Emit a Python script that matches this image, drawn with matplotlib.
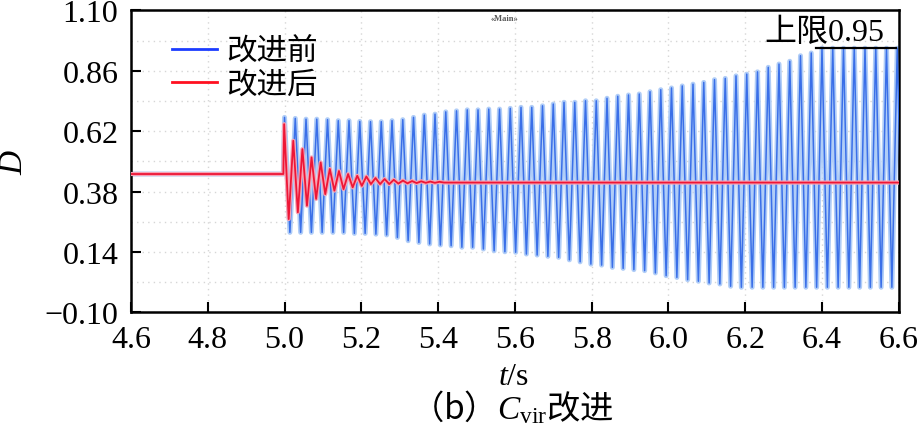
import matplotlib
matplotlib.use("Agg")
import matplotlib.pyplot as plt
from matplotlib.lines import Line2D
from matplotlib.font_manager import FontProperties
from matplotlib.ticker import FixedLocator

# ---------------- data ----------------
x_ticks = [4.6, 4.8, 5.0, 5.2, 5.4, 5.6, 5.8, 6.0, 6.2, 6.4, 6.6]
y_ticks = [-0.10, 0.14, 0.38, 0.62, 0.86, 1.10]
steady_before = 0.45          # D before the disturbance
disturb_time = 4.997

# before improvement (blue): oscillation, one peak + one trough per period
blue_start = 5.000
blue_period = 0.028
blue_peaks = [0.675, 0.671, 0.668, 0.668, 0.666, 0.662, 0.662, 0.659, 0.658, 0.658,
              0.662, 0.666, 0.675, 0.684, 0.688, 0.697, 0.701, 0.705, 0.705, 0.708,
              0.708, 0.711, 0.715, 0.715, 0.721, 0.728, 0.735, 0.735, 0.741, 0.741,
              0.751, 0.759, 0.764, 0.768, 0.777, 0.785, 0.792, 0.800, 0.807, 0.814,
              0.825, 0.830, 0.840, 0.847, 0.856, 0.874, 0.887, 0.898, 0.920, 0.931,
              0.950, 0.950, 0.950, 0.950, 0.950, 0.950, 0.950, 0.950]
blue_troughs = [0.218, 0.218, 0.218, 0.218, 0.218, 0.218, 0.214, 0.214, 0.211, 0.208,
                0.198, 0.185, 0.178, 0.172, 0.168, 0.165, 0.159, 0.159, 0.152, 0.145,
                0.141, 0.139, 0.132, 0.128, 0.123, 0.119, 0.109, 0.101, 0.092, 0.088,
                0.079, 0.075, 0.070, 0.066, 0.057, 0.046, 0.039, 0.030, 0.024, 0.017,
                0.013, 0.004, 0.000, 0.000, 0.000, 0.000, 0.000, 0.000, 0.000, 0.000,
                0.000, 0.000, 0.000, 0.000, 0.000, 0.000, 0.000, 0.000]

# after improvement (red): damped oscillation
red_start = 4.999
red_period = 0.0238
red_peaks = [0.648, 0.582, 0.549, 0.516, 0.496, 0.470, 0.462, 0.450, 0.443, 0.440,
             0.434, 0.430, 0.427, 0.424, 0.422, 0.421, 0.420, 0.419]
red_troughs = [0.271, 0.298, 0.324, 0.351, 0.370, 0.384, 0.390, 0.397, 0.403, 0.410,
               0.410, 0.410, 0.412, 0.413, 0.414, 0.415, 0.415, 0.416]
red_final = 0.416

upper_limit = 0.95
limit_span = (6.384, 6.592)
limit_label = "上限0.95"
legend_labels = ["改进前", "改进后"]

# ---------------- build the series ----------------
def build(start, period, peaks, troughs, end_value=None):
    t = [x_ticks[0], disturb_time]
    y = [steady_before, steady_before]
    for i, (p, q) in enumerate(zip(peaks, troughs)):
        t += [start + i * period, start + (i + 0.5) * period]
        y += [p, q]
    if end_value is not None:
        t.append(x_ticks[-1])
        y.append(end_value)
    return t, y

bt, by = build(blue_start, blue_period, blue_peaks, blue_troughs)
rt, ry = build(red_start, red_period, red_peaks, red_troughs, red_final)

# ---------------- style ----------------
plt.rcParams["font.family"] = ["Liberation Serif", "Noto Sans CJK SC"]
plt.rcParams["mathtext.fontset"] = "custom"
plt.rcParams["mathtext.rm"] = "Liberation Serif"
plt.rcParams["mathtext.it"] = "Liberation Serif:italic"
plt.rcParams["axes.unicode_minus"] = True

fig = plt.figure(figsize=(9.19, 4.39), dpi=100)
ax = fig.add_axes([0.1425, 0.286, 0.8355, 0.688])

ax.plot(bt, by, color="#b0cdf7", lw=3.6, solid_joinstyle="round", zorder=2)
ax.plot(bt, by, color="#3a6fe8", lw=1.1, zorder=3)
ax.plot(rt, ry, color="#f6a3b4", lw=3.0, zorder=4)
ax.plot(rt, ry, color="#ee1636", lw=1.3, zorder=5)

ax.set_xlim(x_ticks[0], x_ticks[-1])
ax.set_ylim(y_ticks[0], y_ticks[-1])
ax.set_xticks(x_ticks)
ax.set_yticks(y_ticks)
ax.set_xticklabels([f"{v:.1f}" for v in x_ticks])
ax.set_yticklabels([f"{v:.2f}".replace("-", "\u2212") for v in y_ticks])
mids = [(a + b) / 2 for a, b in zip(y_ticks[:-1], y_ticks[1:])]
ax.yaxis.set_minor_locator(FixedLocator(mids))
ax.tick_params(axis="both", which="major", direction="in", length=7, width=1.5,
               labelsize=23, pad=9)
ax.tick_params(axis="y", which="minor", length=0)
ax.grid(True, axis="x", which="major", color="#d6d6d6", ls=(0, (1, 3)), lw=1.0)
ax.grid(True, axis="y", which="both", color="#d6d6d6", ls=(0, (1, 3)), lw=1.0)
ax.set_axisbelow(True)
for s in ax.spines.values():
    s.set_linewidth(1.8)

ax.set_ylabel("$D$", fontsize=24)
ax.yaxis.set_label_coords(-0.133, 0.50)

# upper limit annotation
ax.plot(limit_span, [upper_limit, upper_limit], color="black", lw=1.6, zorder=6)
ax.text(6.25, upper_limit + 0.006, limit_label, fontsize=23, va="bottom", ha="left",
        family=["Liberation Serif", "Noto Sans CJK SC"], zorder=7)

ax.text(0.487, 0.987, "«Main»", transform=ax.transAxes, fontsize=6,
        color="#555555", ha="center", va="top", weight="bold")

handles = [Line2D([], [], color="#1c3cff", lw=2.0),
           Line2D([], [], color="#ff1020", lw=2.0)]
ax.legend(handles, legend_labels, loc="upper left", bbox_to_anchor=(0.053, 0.915),
          frameon=False, prop=FontProperties(family="Noto Sans CJK SC", size=22),
          handlelength=1.5, handletextpad=0.3, labelspacing=0.04,
          borderpad=0, borderaxespad=0)

fig.text(0.559, 0.141, "$t$/s", fontsize=23, ha="center", va="center",
         family="Liberation Serif")
fig.text(0.557, 0.070, "（b）$C_{\\mathrm{vir}}$改进", fontsize=24, ha="center",
         va="center", family="Noto Sans CJK SC")

fig.savefig("out.png", dpi=100)
